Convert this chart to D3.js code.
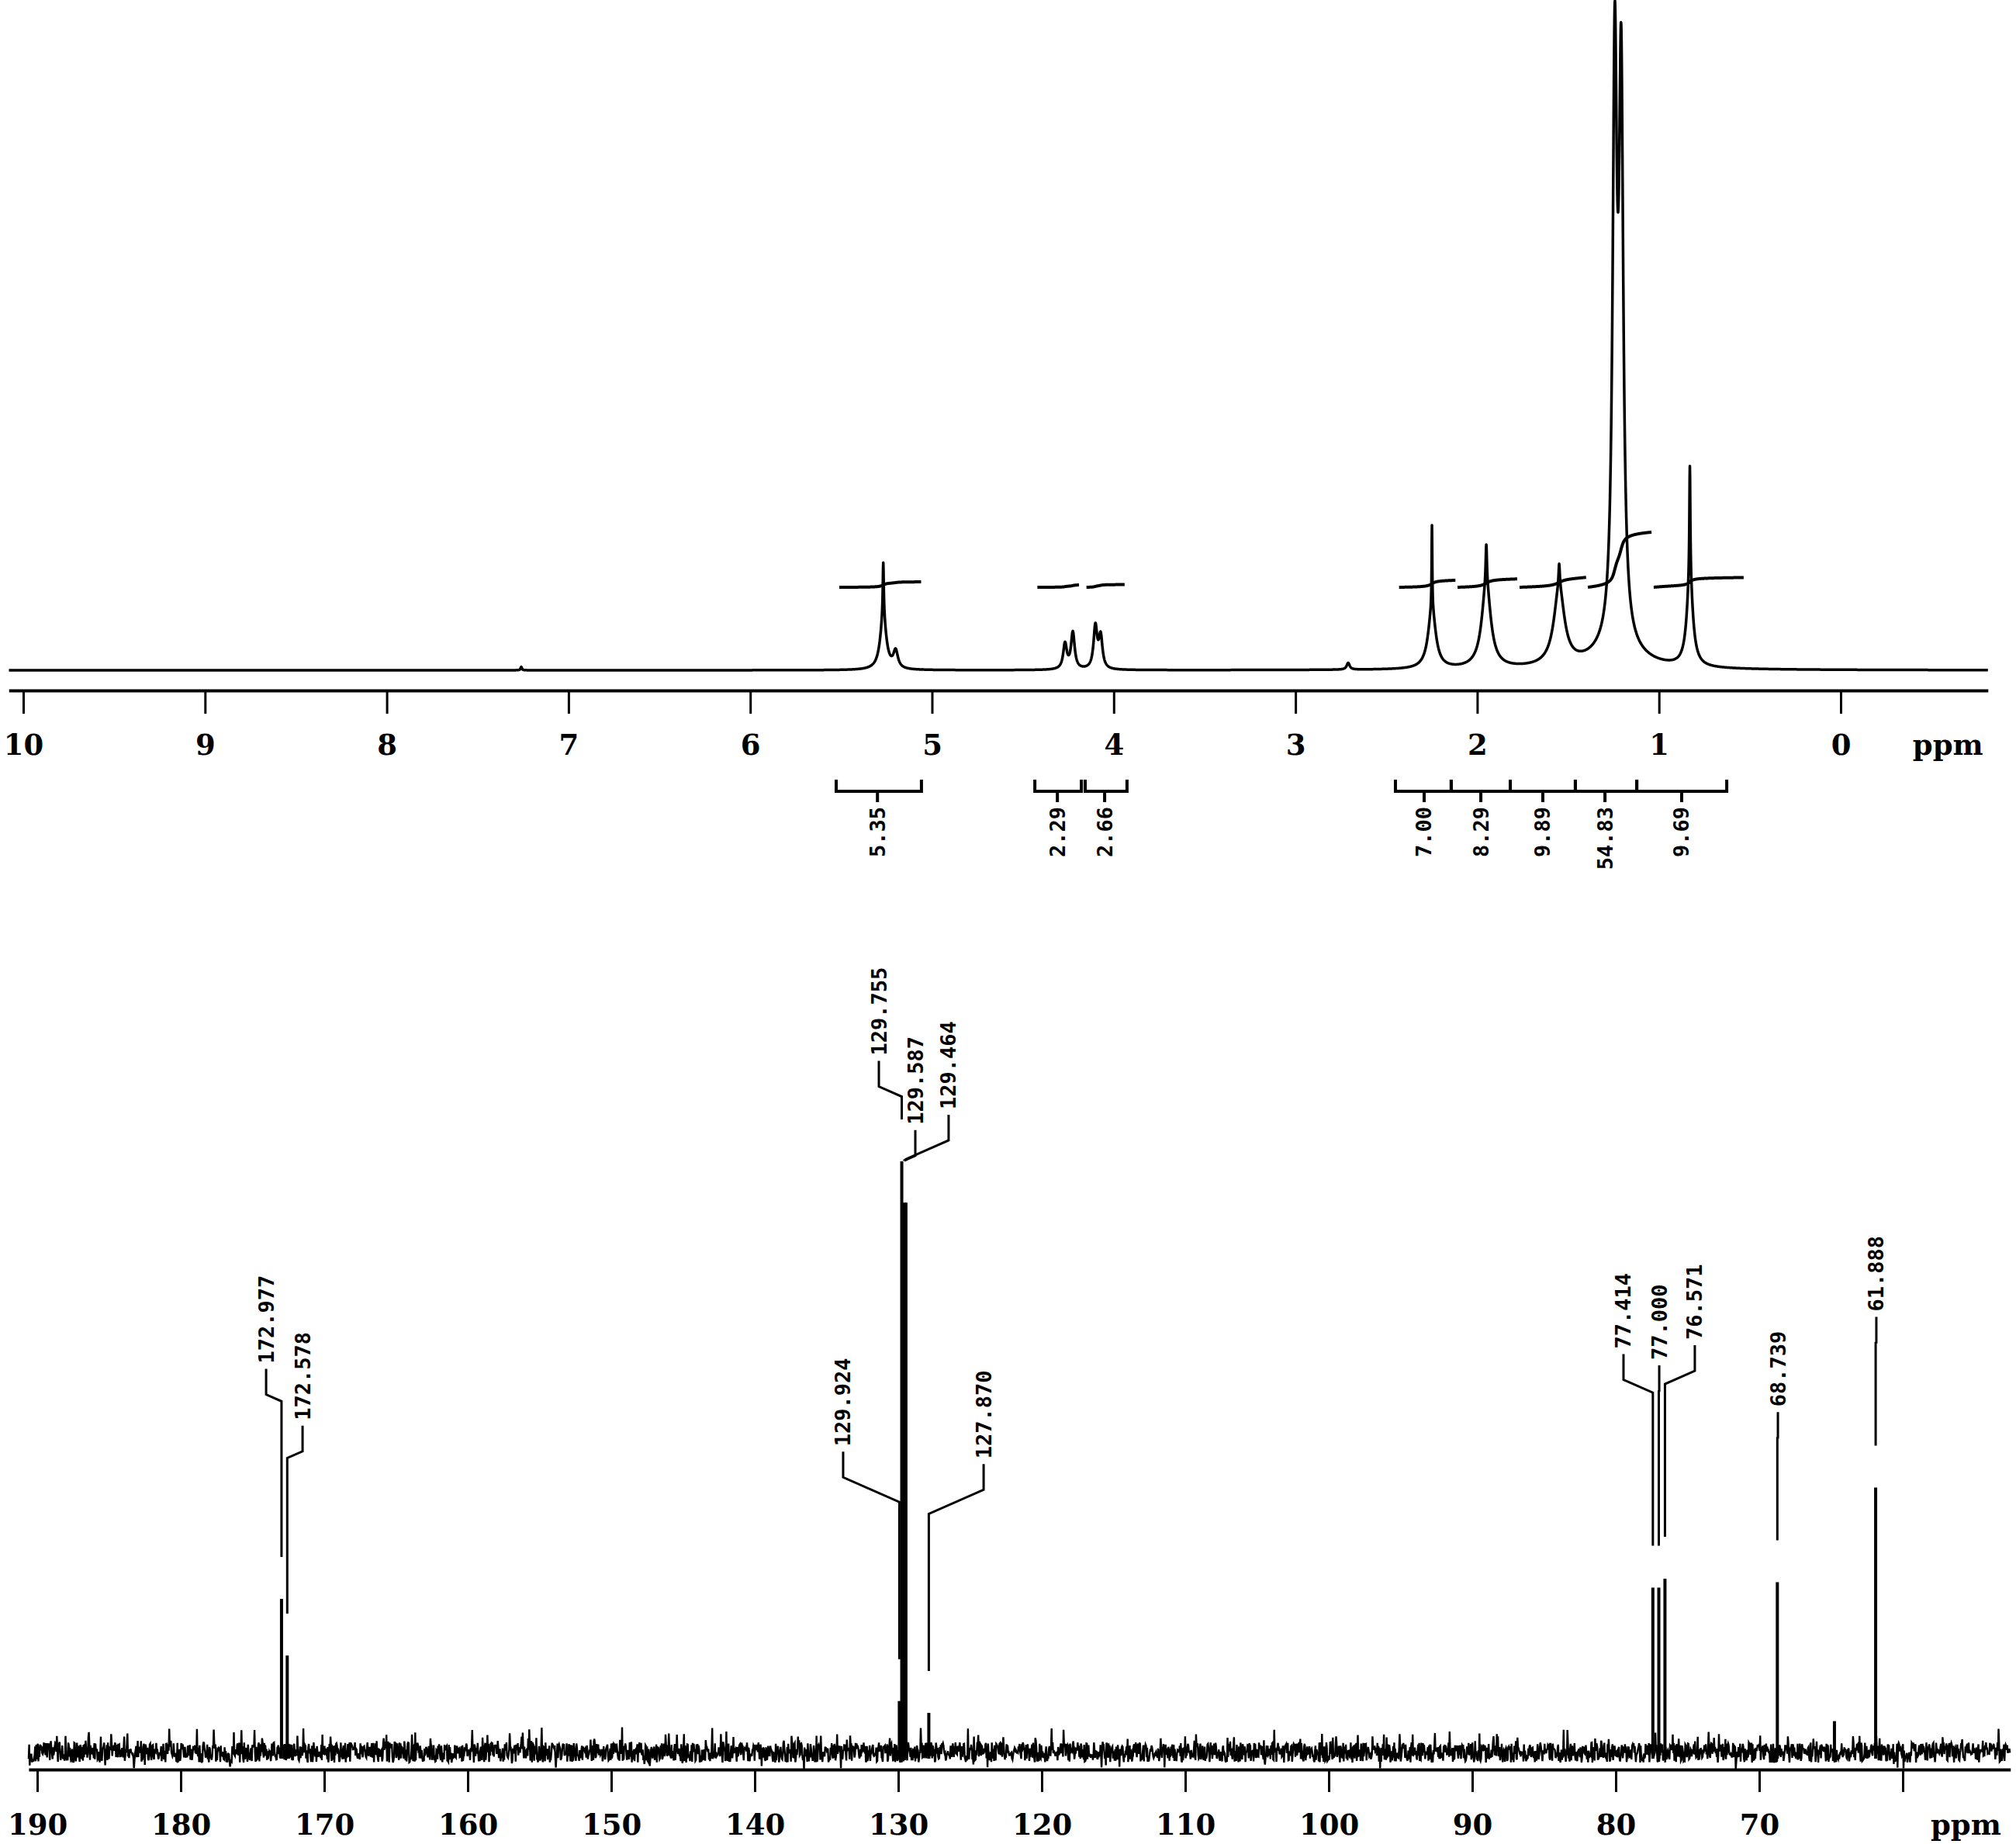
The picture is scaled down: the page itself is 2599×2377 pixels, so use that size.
<!DOCTYPE html>
<html>
<head>
<meta charset="utf-8">
<script src="https://cdn.jsdelivr.net/npm/d3@7/dist/d3.min.js"></script>
<style>
  body { margin: 0; background: #fff; }
  svg { display: block; background: #fff; }
  .axis text { font-family: "DejaVu Serif", serif; font-weight: bold; font-size: 37px; fill: #000; }
  .axis path, .axis line { stroke: #000; }
  .unit { font-family: "DejaVu Serif", serif; font-weight: bold; font-size: 37px; }
  .mono { font-family: "DejaVu Sans Mono", monospace; font-weight: bold; font-size: 27px; }
</style>
</head>
<body>
<script>
// SVG area
var svgWidth = 2599;
var svgHeight = 2377;

// ---- 1H spectrum: peaks ----
// shift (ppm), height (% of tallest line), half width (ppm)
var hShift  = [7.26, 5.268, 5.268, 5.20, 4.268, 4.225, 4.101, 4.072, 2.71, 2.249, 2.249, 1.950, 1.950, 1.549, 1.549, 1.243, 1.208, 1.23, 0.83, 0.83];
var hHeight = [0.5,  8.0,   8.0,   2.6,  3.8,   5.5,   6.3,   4.8,   1.0,  9.0,   12.5,  12.5,  6.0,   11.5,  3.5,   85.7,  82.0,  3.0,  13.0, 17.0];
var hWidth  = [0.004, 0.003, 0.020, 0.015, 0.012, 0.012, 0.012, 0.012, 0.010, 0.025, 0.002, 0.030, 0.004, 0.035, 0.004, 0.014, 0.014, 0.15, 0.020, 0.003];

// integrals
var intLabels = ["5.35", "2.29", "2.66", "7.00", "8.29", "9.89", "54.83", "9.69"];
var intValues = [5.35, 2.29, 2.66, 7.00, 8.29, 9.89, 54.83, 9.69];
var intFrom   = [5.527, 4.434, 4.157, 2.450, 2.143, 1.818, 1.460, 1.122];
var intTo     = [5.058, 4.178, 3.927, 2.143, 1.818, 1.460, 1.122, 0.627];
var intMark   = [5.30, 4.31, 4.05, 2.292, 1.980, 1.639, 1.297, 0.875];
var curveFrom = [5.51, 4.42, 4.15, 2.43, 2.108, 1.767, 1.391, 1.029];
var curveTo   = [5.06, 4.19, 3.94, 2.12, 1.780, 1.400, 1.041, 0.533];

var hMajor = [10, 9, 8, 7, 6, 5, 4, 3, 2, 1, 0];

// ---- 13C spectrum ----
var cShift  = [172.977, 172.578, 129.924, 129.755, 129.587, 129.464, 127.870, 77.414, 77.000, 76.571, 68.739, 64.76, 61.888];
var cHeight = [26.0, 16.4, 8.7, 100, 93, 93, 6.7, 27.9, 27.9, 29.4, 28.8, 5.3, 44.8];
var cLabel  = ["172.977", "172.578", "129.924", "129.755", "129.587", "129.464", "127.870", "77.414", "77.000", "76.571", "68.739", "", "61.888"];
// where each label sits (ppm across, intensity up)
var cLabelAt   = [174.05, 171.51, 133.84, 131.35, 128.81, 126.49, 124.05, 79.46, 76.97, 74.49, 68.70, null, 61.84];
var cLabelLift = [65.8, 56.2, 51.8, 117.9, 106.2, 108.8, 49.7, 68.3, 66.4, 69.8, 58.5, null, 74.6];

var cMajor = [190, 180, 170, 160, 150, 140, 130, 120, 110, 100, 90, 80, 70, 60];
var cLabelled = [190, 180, 170, 160, 150, 140, 130, 120, 110, 100, 90, 80, 70];

var svg = d3.select("body")
  .append("svg")
  .attr("width", svgWidth)
  .attr("height", svgHeight);

svg.append("rect").attr("width", svgWidth).attr("height", svgHeight).attr("fill", "#fff");

// ================= 1H =================
var xH = d3.scaleLinear().domain([10, 0]).range([30, 2373]);
var yH = d3.scaleLinear().domain([0, 100]).range([864, 4]);
var hLeft = 10.08, hRight = -0.81;

function hSignal(p) {
  var s = 0;
  for (var i = 0; i < hShift.length; i++) {
    var d = (p - hShift[i]) / hWidth[i];
    s += hHeight[i] / (1 + d * d);
  }
  return s;
}

var hGrid = d3.range(hRight, hLeft, 0.001).concat(hShift).sort(d3.descending);
var hLine = d3.line().x(function(p) { return xH(p); }).y(function(p) { return yH(hSignal(p)); });

svg.append("path")
  .attr("d", hLine(hGrid))
  .attr("fill", "none")
  .attr("stroke", "#000")
  .attr("stroke-width", 3.5)
  .attr("stroke-linejoin", "round");

// integral curves
var yInt = d3.scaleLinear().domain([0, 54.83]).range([757, 686]);
intValues.forEach(function(v, k) {
  var pts = d3.range(curveFrom[k], curveTo[k], -0.001);
  var cum = 0, acc = [];
  pts.forEach(function(p) { cum += hSignal(p); acc.push(cum); });
  var line = d3.line()
    .x(function(d, i) { return xH(pts[i]); })
    .y(function(d) { return yInt(v * d / cum); });
  svg.append("path")
    .attr("d", line(acc))
    .attr("fill", "none")
    .attr("stroke", "#000")
    .attr("stroke-width", 4);
});

// axis
var axisH = d3.scaleLinear().domain([hLeft, hRight]).range([xH(hLeft), xH(hRight)]);
var hMinor = d3.range(-0.8, 10.01, 0.2).map(function(d) { return Math.round(d * 10) / 10; })
  .filter(function(d) { return hMajor.indexOf(d) < 0; });

var gH = svg.append("g").attr("class", "axis").attr("transform", "translate(0, 890)");
gH.call(d3.axisBottom(axisH).tickValues(hMinor).tickSize(14).tickSizeOuter(0).tickFormat(""));
gH.call(d3.axisBottom(axisH).tickValues(hMajor).tickSize(30).tickSizeOuter(0).tickFormat(d3.format("d")));
gH.selectAll("path.domain").attr("stroke-width", 4);
gH.selectAll("line").attr("stroke-width", 3);
gH.selectAll("text").attr("y", 83).attr("dy", null);

svg.append("text").attr("class", "unit")
  .attr("x", xH(-0.59)).attr("y", 973)
  .attr("text-anchor", "middle").text("ppm");

// integral brackets
intLabels.forEach(function(t, k) {
  var a = xH(intFrom[k]), b = xH(intTo[k]), m = xH(intMark[k]);
  svg.append("path")
    .attr("d", "M" + a + ",1005V1020H" + b + "V1005M" + m + ",1020V1034")
    .attr("fill", "none").attr("stroke", "#000").attr("stroke-width", 4);
  svg.append("text").attr("class", "mono")
    .attr("transform", "translate(" + m + ",1040) rotate(-90)")
    .attr("text-anchor", "end")
    .attr("dominant-baseline", "central")
    .text(t);
});

// ================= 13C =================
var xC = d3.scaleLinear().domain([190, 130]).range([48, 1158]);
var yC = d3.scaleLinear().domain([0, 100]).range([2259, 1497]);
var cLeft = 190.6, cRight = 52.5;

// baseline noise texture (deterministic)
function hash(i) {
  var s = Math.sin(i * 127.1 + 311.7) * 43758.5453;
  return s - Math.floor(s);
}
var noisePts = d3.range(xC(cLeft), xC(cRight), 0.7).map(function(x, i) {
  var u = (hash(i) - 0.5) * 26;
  if (hash(i + 7777) > 0.94) u -= 8 + hash(i + 333) * 14;
  if (hash(i + 1234) > 0.975) u += 9;
  return [x, yC(0) + u];
});
svg.append("path")
  .attr("d", d3.line()(noisePts))
  .attr("fill", "none").attr("stroke", "#000").attr("stroke-width", 2.4);

// peaks
svg.selectAll("line.cpeak")
  .data(cShift)
  .enter().append("line")
  .attr("class", "cpeak")
  .attr("x1", function(d) { return xC(d); })
  .attr("x2", function(d) { return xC(d); })
  .attr("y1", yC(0) + 8)
  .attr("y2", function(d, i) { return yC(cHeight[i]); })
  .attr("stroke", "#000").attr("stroke-width", 4);

// peak labels with leaders
cShift.forEach(function(p, i) {
  if (!cLabel[i]) return;
  var lx = xC(cLabelAt[i]), ly = yC(cLabelLift[i]);
  var px = xC(p);
  var y1 = ly + 7, y2 = ly + 40, y3 = y2 + 0.44 * Math.abs(px - lx);
  var yEnd = yC(cHeight[i]) - 54;
  svg.append("path")
    .attr("d", "M" + lx + "," + y1 + "V" + y2 + "L" + px + "," + y3 + "V" + yEnd)
    .attr("fill", "none").attr("stroke", "#000").attr("stroke-width", 3);
  svg.append("text").attr("class", "mono")
    .attr("transform", "translate(" + lx + "," + ly + ") rotate(-90)")
    .attr("text-anchor", "start")
    .attr("dominant-baseline", "central")
    .text(cLabel[i]);
});

// axis
var axisC = d3.scaleLinear().domain([cLeft, cRight]).range([xC(cLeft), xC(cRight)]);
var cMinor = d3.range(54, 191, 2).filter(function(d) { return d % 10 !== 0; });

var gC = svg.append("g").attr("class", "axis").attr("transform", "translate(0, 2281)");
gC.call(d3.axisBottom(axisC).tickValues(cMinor).tickSize(17).tickSizeOuter(0).tickFormat(""));
gC.call(d3.axisBottom(axisC).tickValues(cMajor).tickSize(29).tickSizeOuter(0)
  .tickFormat(function(d) { return cLabelled.indexOf(d) >= 0 ? d : ""; }));
gC.selectAll("path.domain").attr("stroke-width", 4);
gC.selectAll("line").attr("stroke-width", 3);
gC.selectAll("text").attr("y", 84).attr("dy", null);

svg.append("text").attr("class", "unit")
  .attr("x", xC(55.6)).attr("y", 2365)
  .attr("text-anchor", "middle").text("ppm");
</script>
</body>
</html>
